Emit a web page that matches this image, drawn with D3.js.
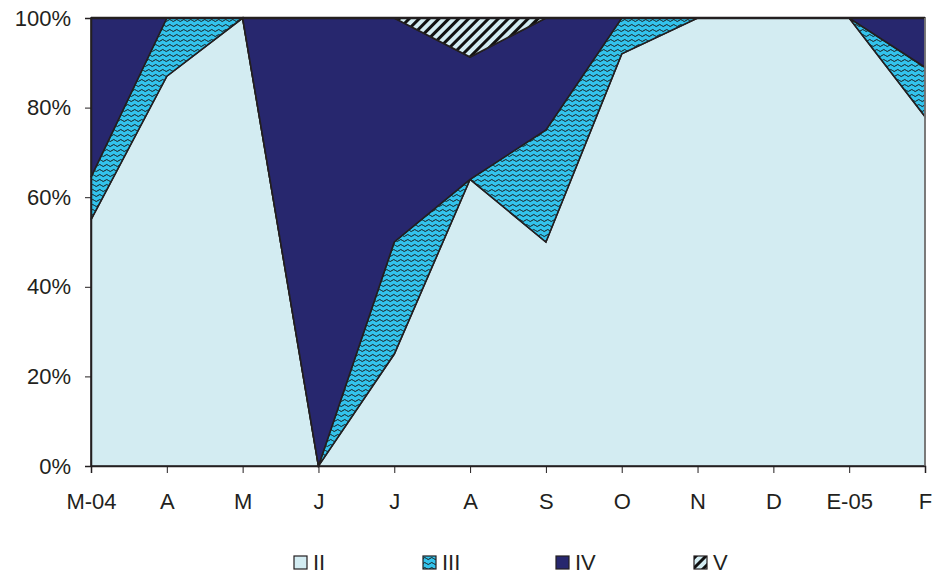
<!DOCTYPE html>
<html>
<head>
<meta charset="utf-8">
<script src="https://cdn.jsdelivr.net/npm/d3@7"></script>
<style>
  body { margin: 0; background: #fff; }
  text { font-family: "Liberation Sans", Arial, sans-serif; fill: #231f20; }
</style>
</head>
<body>
<div id="chart"></div>
<script>
// chart data (percent of each month)
var months = ["M-04", "A", "M", "J", "J", "A", "S", "O", "N", "D", "E-05", "F"];
var serieII  = [55, 87, 100, 0, 25, 64, 50, 92, 100, 100, 100, 78];
var serieIII = [9.5, 13, 0, 0, 25, 0, 25, 8, 0, 0, 0, 11];
var serieIV  = [35.5, 0, 0, 100, 50, 27.3, 25, 0, 0, 0, 0, 11];
var serieV   = [0, 0, 0, 0, 0, 8.7, 0, 0, 0, 0, 0, 0];
var keys = ["II", "III", "IV", "V"];
var yTicks = [0, 20, 40, 60, 80, 100];

var w = 935, h = 575;
var margin = {top: 18, right: 10, bottom: 109, left: 91};
var width = w - margin.left - margin.right;
var height = h - margin.top - margin.bottom;

// build rows for the stack
var rows = months.map(function(m, i) {
    return {idx: i, II: serieII[i], III: serieIII[i], IV: serieIV[i], V: serieV[i]};
});

var svg = d3.select("#chart").append("svg")
    .attr("width", w)
    .attr("height", h);

// patterns
var defs = svg.append("defs");
var wave = defs.append("pattern")
    .attr("id", "wave")
    .attr("patternUnits", "userSpaceOnUse")
    .attr("width", 7).attr("height", 5);
wave.append("rect").attr("width", 7).attr("height", 5).attr("fill", "#33c3ec");
wave.append("path")
    .attr("d", "M0,2.5 Q1.75,0.5 3.5,2.5 T7,2.5")
    .attr("fill", "none").attr("stroke", "#1a1a1a").attr("stroke-width", 1);

var hatch = defs.append("pattern")
    .attr("id", "hatch")
    .attr("patternUnits", "userSpaceOnUse")
    .attr("width", 7).attr("height", 7)
    .attr("patternTransform", "rotate(45)");
hatch.append("rect").attr("width", 7).attr("height", 7).attr("fill", "#d3ecf2");
hatch.append("rect").attr("width", 3).attr("height", 7).attr("fill", "#111");

var fills = {II: "#d3ecf2", III: "url(#wave)", IV: "#27276e", V: "url(#hatch)"};

var g = svg.append("g")
    .attr("transform", "translate(" + margin.left + "," + margin.top + ")");

var x = d3.scalePoint().domain(d3.range(months.length)).range([0, width]);
var y = d3.scaleLinear().domain([0, 100]).range([height, 0]);

var stack = d3.stack().keys(keys);
var layers = stack(rows);

var area = d3.area()
    .x(function(d) { return x(d.data.idx); })
    .y0(function(d) { return y(d[0]); })
    .y1(function(d) { return y(d[1]); });

g.selectAll(".layer")
    .data(layers)
    .enter()
    .append("path")
    .attr("class", "layer")
    .attr("d", area)
    .attr("fill", function(d) { return fills[d.key]; })
    .attr("stroke", "#231f20")
    .attr("stroke-width", 1.6)
    .attr("stroke-linejoin", "miter");

// frame: top line and right edge
g.append("line")
    .attr("x1", 0).attr("x2", width)
    .attr("y1", 0).attr("y2", 0)
    .attr("stroke", "#231f20").attr("stroke-width", 2.5);
g.append("line")
    .attr("x1", width).attr("x2", width)
    .attr("y1", 0).attr("y2", height)
    .attr("stroke", "#8a8a8a").attr("stroke-width", 1.5);

// Y axis
var yAxis = d3.axisLeft(y)
    .tickValues(yTicks)
    .tickSize(6)
    .tickFormat(function(d) { return d + "%"; });
var ya = g.append("g").call(yAxis);
ya.select(".domain").attr("stroke", "#231f20").attr("stroke-width", 1.5);
ya.selectAll(".tick line").attr("stroke", "#231f20");
ya.selectAll(".tick text")
    .attr("x", -20)
    .style("font-size", "22px")
    .style("font-family", "Liberation Sans, Arial, sans-serif")
    .attr("fill", "#231f20");

// X axis
var xAxis = d3.axisBottom(x)
    .tickSize(7)
    .tickFormat(function(i) { return months[i]; });
var xa = g.append("g")
    .attr("transform", "translate(0," + height + ")")
    .call(xAxis);
xa.select(".domain").attr("stroke", "#231f20").attr("stroke-width", 1.5);
xa.selectAll(".tick line").attr("stroke", "#231f20");
xa.selectAll(".tick text")
    .attr("y", 27)
    .style("font-size", "22px")
    .style("font-family", "Liberation Sans, Arial, sans-serif")
    .attr("fill", "#231f20");

// Legend
var legendX = [294, 423, 556, 694];
var legend = svg.append("g");
keys.forEach(function(k, i) {
    var lg = legend.append("g").attr("transform", "translate(" + legendX[i] + ",556)");
    lg.append("rect")
        .attr("width", 13).attr("height", 13)
        .attr("fill", fills[k])
        .attr("stroke", "#231f20").attr("stroke-width", 1.2);
    lg.append("text")
        .attr("x", 19).attr("y", 14)
        .style("font-size", "22px")
        .text(k);
});
</script>
</body>
</html>
